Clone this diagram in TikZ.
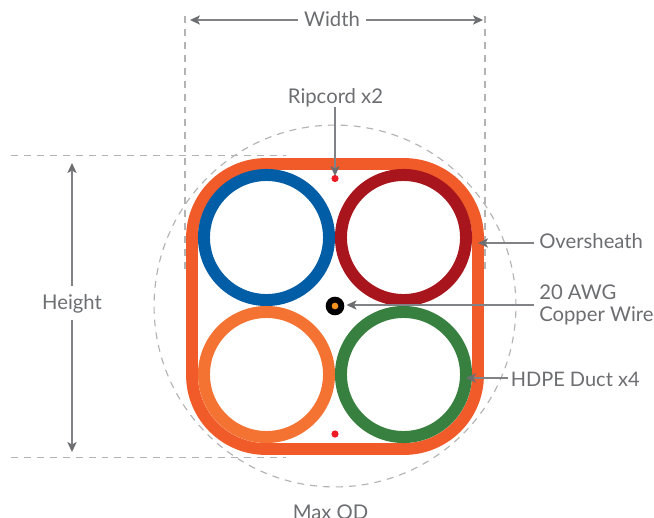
\documentclass[tikz,border=0pt]{standalone}
\usepackage{fontspec}
\setmainfont{Lato}
\usetikzlibrary{arrows.meta}
\definecolor{txt}{HTML}{6D6E71}
\definecolor{connc}{HTML}{808285}
\definecolor{sheath}{HTML}{F15A29}
\definecolor{dashc}{HTML}{B3B3B3}
\definecolor{dblue}{HTML}{005DA6}
\definecolor{dred}{HTML}{A8151C}
\definecolor{dorange}{HTML}{F47232}
\definecolor{dgreen}{HTML}{38803F}
\definecolor{rip}{HTML}{ED1C24}
\definecolor{core}{HTML}{F7941E}
\tikzset{
 x=0.75pt,y=-0.75pt,
 lbl/.style={text=txt,font=\fontsize{15.2pt}{16.6pt}\selectfont,inner sep=0pt,align=left},
 guide/.style={draw=dashc,line width=0.85pt,dash pattern=on 5.2pt off 4.5pt},
 conn/.style={draw=connc,line width=1.05pt,-{Stealth[length=7.5pt,width=7pt,inset=1.8pt,color=txt,fill=txt,line width=0pt]}},
 duct/.style={line width=9pt,draw=#1}
}
\begin{document}
\begin{tikzpicture}
\useasboundingbox (0,0) rectangle (654,518);
\fill[white] (0,0) rectangle (654,518);
% guides
\draw[guide] (335,306) circle [radius=135.7pt];
\draw[guide] (11,155.5) -- (286,155.5);
\draw[guide] (11,457.5) -- (286,457.5);
\draw[guide] (185,16) -- (185,272);
\draw[guide] (485,16) -- (485,272);
% oversheath
\draw[sheath,line width=8.9pt,rounded corners=55.5pt] (192,164) rectangle (478,449);
% ducts
\draw[duct=dblue] (266.5,237.5) circle [radius=46.9pt];
\draw[duct=dred] (403.5,237.5) circle [radius=46.9pt];
\draw[duct=dorange] (266.5,374.5) circle [radius=46.9pt];
\draw[duct=dgreen] (403.5,374.5) circle [radius=46.9pt];
% ripcords, wire
\fill[rip] (335,178.5) circle [radius=2.7pt];
\fill[rip] (335,434) circle [radius=2.7pt];
\node[circle,fill=black,minimum size=14pt,inner sep=0pt] (wire) at (335,306) {};
\fill[core] (wire) circle [radius=2.5pt];
% labels
\node[lbl,anchor=center] (w) at (332,19.5) {Width};
\node[lbl,anchor=center] (r) at (335.5,98) {Ripcord x2};
\node[lbl,anchor=center] (h) at (72,303.5) {Height};
\node[lbl,anchor=west] (o) at (539,241.5) {Oversheath};
\node[lbl,anchor=west] (c) at (539,305) {20 AWG\\Copper Wire};
\node[lbl,anchor=west,font=\fontsize{15pt}{16.6pt}\selectfont] (d) at (510.5,379) {HDPE Duct x4};
\node[lbl,anchor=base] (m) at (330.5,519) {Max OD};
\coordinate (wl) at (190,20); \coordinate (wr) at (483,20);
\coordinate (wls) at (298,20); \coordinate (wrs) at (366,20);
\coordinate (ht) at (72,163); \coordinate (hb) at (72,452);
\coordinate (hts) at (72,286); \coordinate (hbs) at (72,320);
\coordinate (rs) at (335,107); \coordinate (rp) at (335,176);
\coordinate (os) at (534,243); \coordinate (ov) at (478,243);
\coordinate (cs) at (534,305); \coordinate (ct) at (346.5,305);
\coordinate (ds) at (508,378); \coordinate (du) at (466,378);
% connectors
\draw[conn] (wls) -- (wl);
\draw[conn] (wrs) -- (wr);
\draw[conn] (hts) -- (ht);
\draw[conn] (hbs) -- (hb);
\draw[conn] (rs) -- (rp);
\draw[conn] (os) -- (ov);
\draw[conn] (cs) -- (ct);
\draw[conn] (ds) -- (du);
\end{tikzpicture}
\end{document}
